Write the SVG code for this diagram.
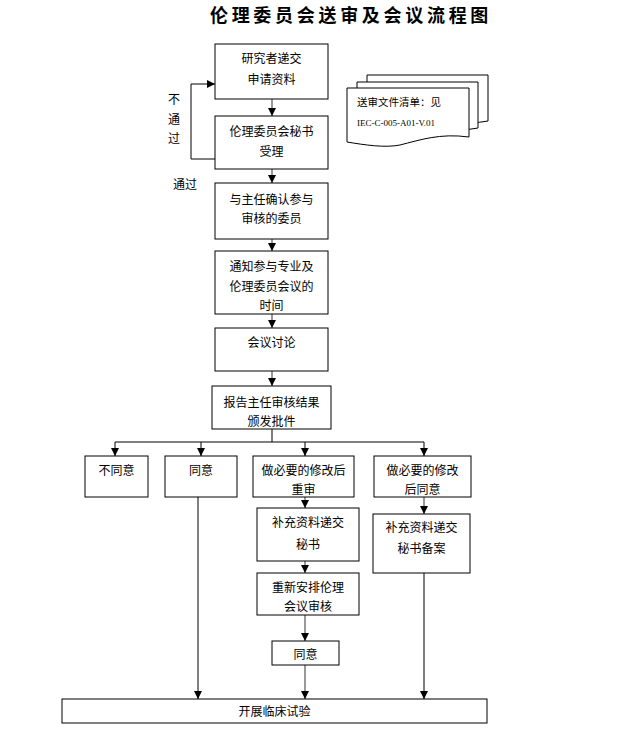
<svg xmlns="http://www.w3.org/2000/svg" width="627" height="733" viewBox="0 0 627 733">
<style>
.box{fill:#fff;stroke:#000;stroke-width:1}
.t{font-family:"Liberation Sans","Noto Sans CJK SC",sans-serif;font-size:12px;fill:#000;text-anchor:middle}
.tl{font-family:"Liberation Sans","Noto Sans CJK SC",sans-serif;font-size:12px;fill:#000}
.doc{font-family:"Liberation Serif","Noto Sans CJK SC",serif;font-size:10.5px;fill:#000}
.doc2{font-family:"Liberation Serif",serif;font-size:9px;fill:#000}
.g{stroke:#777;stroke-width:1.5;fill:none}
.k{stroke:#000;stroke-width:1;fill:none}
</style>
<defs>
<marker id="ah" viewBox="0 0 8 8" refX="8" refY="4" markerWidth="8" markerHeight="8" markerUnits="userSpaceOnUse" orient="auto">
<path d="M0,0 L8,4 L0,8 Z" fill="#000"/>
</marker>
</defs>
<rect width="627" height="733" fill="#fff"/>
<text x="351" y="22" font-family="Liberation Sans,'Noto Sans CJK SC',sans-serif" font-size="18" font-weight="bold" letter-spacing="3.7" text-anchor="middle">伦理委员会送审及会议流程图</text>

<g id="connectors">
<line class="g" x1="272" y1="99" x2="272" y2="116" marker-end="url(#ah)"/>
<line class="g" x1="272" y1="169" x2="272" y2="183" marker-end="url(#ah)"/>
<line class="g" x1="272" y1="239" x2="272" y2="251" marker-end="url(#ah)"/>
<line class="g" x1="272" y1="314" x2="272" y2="328" marker-end="url(#ah)"/>
<line class="g" x1="272" y1="371" x2="272" y2="386" marker-end="url(#ah)"/>
<polyline class="k" points="215,159 191,159 191,84 215,84" marker-end="url(#ah)"/>
<line class="k" x1="272" y1="429" x2="272" y2="442"/>
<line class="k" x1="115" y1="442" x2="424" y2="442"/>
<line class="k" x1="115" y1="442" x2="115" y2="456" marker-end="url(#ah)"/>
<line class="k" x1="201" y1="442" x2="201" y2="456" marker-end="url(#ah)"/>
<line class="k" x1="305" y1="442" x2="305" y2="456" marker-end="url(#ah)"/>
<line class="k" x1="424" y1="442" x2="424" y2="456" marker-end="url(#ah)"/>
<line class="g" x1="305" y1="497" x2="305" y2="508" marker-end="url(#ah)"/>
<line class="g" x1="305" y1="561" x2="305" y2="573" marker-end="url(#ah)"/>
<line class="g" x1="305" y1="615" x2="305" y2="641" marker-end="url(#ah)"/>
<line class="g" x1="305" y1="665" x2="305" y2="699" marker-end="url(#ah)"/>
<line class="k" x1="198" y1="497" x2="198" y2="699" marker-end="url(#ah)"/>
<line class="g" x1="424" y1="497" x2="424" y2="514" marker-end="url(#ah)"/>
<line class="k" x1="424" y1="557" x2="424" y2="699" marker-end="url(#ah)"/>
</g>

<g id="labels">
<text class="tl" x="168" y="104">不</text>
<text class="tl" x="168" y="124">通</text>
<text class="tl" x="168" y="143">过</text>
<text class="tl" x="173" y="189">通过</text>
</g>

<g id="docs">
<path d="M367,75 H488 V121 Q470,124 460,123 L367,123 Z" fill="#fff" stroke="#000"/>
<path d="M357,82 H478 V128 Q460,131 450,130 L357,130 Z" fill="#fff" stroke="#000"/>
<path d="M347,88 H469 V137 C440,133 420,140 400,145 C385,148 365,145 347,142 Z" fill="#fff" stroke="#000"/>
<text class="doc" x="357" y="106">送审文件清单：见</text>
<text class="doc2" x="357" y="126">IEC-C-005-A01-V.01</text>
</g>

<g id="n1"><rect class="box" x="215" y="44" width="113" height="55"/><text class="t" x="271.5" y="63">研究者递交</text><text class="t" x="271.5" y="84">申请资料</text></g>
<g id="n2"><rect class="box" x="215" y="116" width="113" height="53"/><text class="t" x="271.5" y="136">伦理委员会秘书</text><text class="t" x="271.5" y="156">受理</text></g>
<g id="n3"><rect class="box" x="215" y="183" width="113" height="56"/><text class="t" x="271.5" y="204">与主任确认参与</text><text class="t" x="271.5" y="223">审核的委员</text></g>
<g id="n4"><rect class="box" x="215" y="251" width="113" height="63"/><text class="t" x="271.5" y="271">通知参与专业及</text><text class="t" x="271.5" y="291">伦理委员会议的</text><text class="t" x="271.5" y="310">时间</text></g>
<g id="n5"><rect class="box" x="215" y="328" width="113" height="43"/><text class="t" x="271.5" y="347">会议讨论</text></g>
<g id="n6"><rect class="box" x="212" y="386" width="119" height="43"/><text class="t" x="271.5" y="407">报告主任审核结果</text><text class="t" x="271.5" y="426">颁发批件</text></g>
<g id="n7"><rect class="box" x="85" y="456" width="63" height="41"/><text class="t" x="116.5" y="475">不同意</text></g>
<g id="n8"><rect class="box" x="165" y="456" width="72" height="41"/><text class="t" x="201" y="475">同意</text></g>
<g id="n9"><rect class="box" x="253" y="456" width="101" height="41"/><text class="t" x="303.5" y="475">做必要的修改后</text><text class="t" x="303.5" y="494">重审</text></g>
<g id="n10"><rect class="box" x="374" y="456" width="97" height="41"/><text class="t" x="422.5" y="475">做必要的修改</text><text class="t" x="422.5" y="494">后同意</text></g>
<g id="n11"><rect class="box" x="257" y="508" width="102" height="53"/><text class="t" x="308" y="527">补充资料递交</text><text class="t" x="308" y="549">秘书</text></g>
<g id="n12"><rect class="box" x="257" y="573" width="102" height="42"/><text class="t" x="308" y="592">重新安排伦理</text><text class="t" x="308" y="611">会议审核</text></g>
<g id="n13"><rect class="box" x="272" y="641" width="67" height="24"/><text class="t" x="305.5" y="659">同意</text></g>
<g id="n14"><rect class="box" x="373" y="514" width="97" height="59"/><text class="t" x="421.5" y="532">补充资料递交</text><text class="t" x="421.5" y="553">秘书备案</text></g>
<g id="n15"><rect class="box" x="62" y="699" width="425" height="24"/><text class="t" x="274.5" y="716">开展临床试验</text></g>
</svg>
